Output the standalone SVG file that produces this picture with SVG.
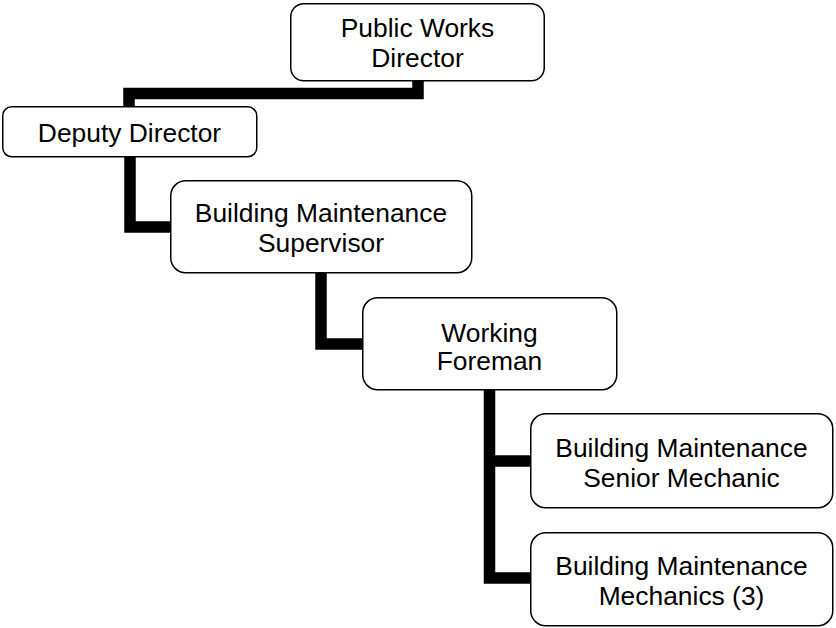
<svg xmlns="http://www.w3.org/2000/svg" width="836" height="628" viewBox="0 0 836 628">
<style>
.box{fill:#fff;stroke:#000;stroke-width:1.5}
.t{font-family:"Liberation Sans",Arial,sans-serif;font-size:26.4px;fill:#000;text-anchor:middle}
.c{fill:none;stroke:#000;stroke-width:11.5;stroke-linejoin:miter;stroke-linecap:butt}
</style>
<rect width="836" height="628" fill="#fff"/>
<g id="connectors">
<path class="c" d="M418,81 V93.5 H129 V107"/>
<path class="c" d="M130,156 V227 H171"/>
<path class="c" d="M321,273 V344 H363"/>
<path class="c" d="M489.5,390 V578 H531"/>
<path class="c" d="M489.5,461 H531"/>
</g>
<g id="n1"><rect class="box" x="290.75" y="3.75" width="253.5" height="77" rx="13"/>
<text class="t" x="417.5" y="37">Public Works</text><text class="t" x="417.5" y="67">Director</text></g>
<g id="n2"><rect class="box" x="2.75" y="106.75" width="254" height="50" rx="9"/>
<text class="t" x="129.5" y="142">Deputy Director</text></g>
<g id="n3"><rect class="box" x="170.75" y="180.75" width="301" height="92" rx="15"/>
<text class="t" x="321" y="222">Building Maintenance</text><text class="t" x="321" y="252">Supervisor</text></g>
<g id="n4"><rect class="box" x="362.75" y="297.75" width="254" height="92" rx="15"/>
<text class="t" x="489.5" y="342">Working</text><text class="t" x="489.5" y="370">Foreman</text></g>
<g id="n5"><rect class="box" x="530.75" y="413.75" width="302" height="94" rx="15"/>
<text class="t" x="681.5" y="457">Building Maintenance</text><text class="t" x="681.5" y="487">Senior Mechanic</text></g>
<g id="n6"><rect class="box" x="530.75" y="532.75" width="302" height="93" rx="15"/>
<text class="t" x="681.5" y="575">Building Maintenance</text><text class="t" x="681.5" y="605">Mechanics (3)</text></g>
</svg>
